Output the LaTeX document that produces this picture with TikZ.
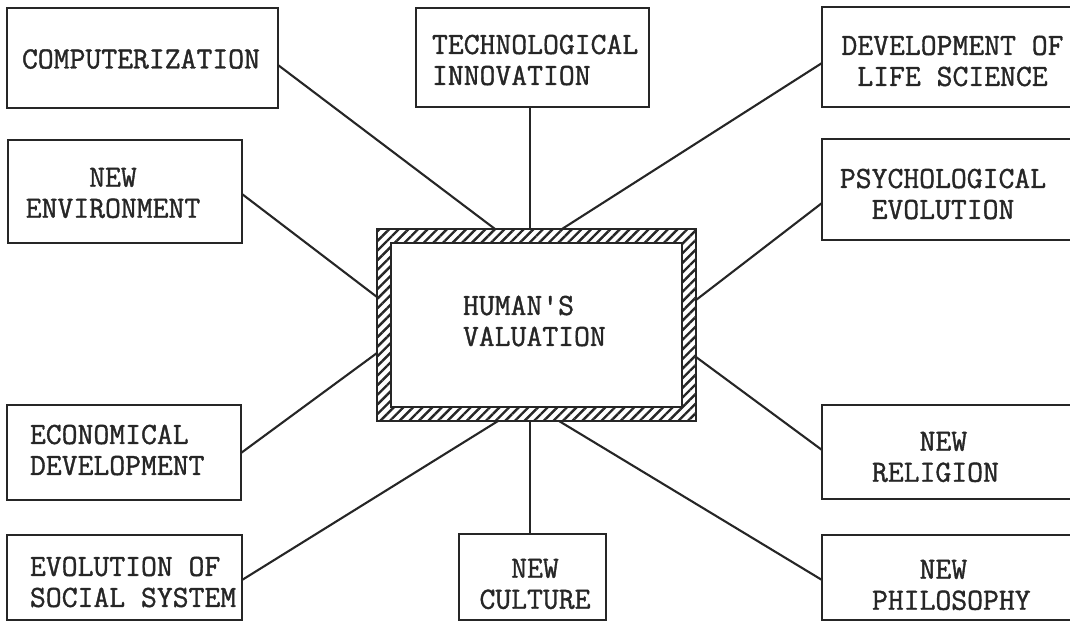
\documentclass[tikz,border=0pt]{standalone}
\usepackage{fontspec}
\newfontfamily\typewriter{Latin Modern Mono}[FakeBold=1.2]
\usetikzlibrary{patterns.meta}
\definecolor{ink}{gray}{0.15}
\begin{document}
\begin{tikzpicture}[x=0.5pt,y=-0.5pt,
  every node/.style={inner sep=0pt, outer sep=0pt},
  box/.style={draw=ink, line width=1.3pt, rectangle},
  txt/.style={font=\fontsize{15.4}{15.5}\selectfont\typewriter\bfseries, text=ink},
  link/.style={draw=ink, line width=1.05pt}]
\useasboundingbox (0,0) rectangle (1070,628);
\clip (0,0) rectangle (1070,628);

% outer boxes
\node[box, minimum width=135.5pt, minimum height=50pt]   (comp) at (142.5,58)  {};
\node[box, minimum width=116.5pt, minimum height=49.5pt] (tech) at (532.5,57.5) {};
\node[box, minimum width=134pt,   minimum height=50pt]   (dev)  at (956,57)    {};
\node[box, minimum width=117pt,   minimum height=51.5pt] (env)  at (125,191.5) {};
\node[box, minimum width=134pt,   minimum height=50.5pt] (psy)  at (956,189.5) {};
\node[box, minimum width=117pt,   minimum height=47.5pt] (econ) at (124,452.5) {};
\node[box, minimum width=134pt,   minimum height=47pt]   (rel)  at (956,452)   {};
\node[box, minimum width=117.5pt, minimum height=42.5pt] (evol) at (124.5,577.5) {};
\node[box, minimum width=73.5pt,  minimum height=43pt]   (cult) at (532.5,577) {};
\node[box, minimum width=134pt,   minimum height=42.5pt] (phil) at (956,577.5) {};

% central box with hatched frame
\node[minimum width=159.5pt, minimum height=96pt] (hv) at (536.5,325) {};
\fill[pattern={Lines[angle=45,distance=3.4pt,line width=1.2pt]}, pattern color=ink, even odd rule]
  (hv.south west) rectangle (hv.north east)
  ([shift={(7pt,7pt)}]hv.south west) rectangle ([shift={(-7pt,-7pt)}]hv.north east);
\draw[ink, line width=1.3pt] (hv.south west) rectangle (hv.north east);
\draw[ink, line width=1.3pt] ([shift={(7pt,7pt)}]hv.south west) rectangle ([shift={(-7pt,-7pt)}]hv.north east);

% labels
\node[txt, anchor=west] (tcomp) at (22,59) {COMPUTERIZATION};
\node[txt, anchor=west, align=left] (ttech) at (432,60) {TECHNOLOGICAL\\INNOVATION};
\node[txt, align=center] (tdev) at (952.5,61) {DEVELOPMENT OF\\LIFE SCIENCE};
\node[txt, align=center] (tenv) at (113,193) {NEW\\ENVIRONMENT};
\node[txt, align=center] (tpsy) at (943,194) {PSYCHOLOGICAL\\EVOLUTION};
\node[txt, anchor=west, align=left] (thv) at (463,321) {HUMAN\textquotesingle S\\VALUATION};
\node[txt, anchor=west, align=left] (tecon) at (30,450) {ECONOMICAL\\DEVELOPMENT};
\node[txt, anchor=west, align=left] (tevol) at (30,582) {EVOLUTION OF\\SOCIAL SYSTEM};
\node[txt, align=center] (tcult) at (535,584) {NEW\\CULTURE};
\node[txt, anchor=west, align=left] (trel) at (872,457) {~~~NEW\\RELIGION};
\node[txt, anchor=west, align=left] (tphil) at (872,585) {~~~NEW\\PHILOSOPHY};

% connectors
\draw[link] (comp.east |- 0,65)  -- (hv.north -| 495,0);
\draw[link] (tech.south -| 530,0) -- (hv.north -| 530,0);
\draw[link] (dev.west |- 0,63)   -- (hv.north -| 562,0);
\draw[link] (env.east |- 0,194)  -- (hv.west |- 0,297);
\draw[link] (psy.west |- 0,203)  -- (hv.east |- 0,300);
\draw[link] (econ.east |- 0,453) -- (hv.west |- 0,353);
\draw[link] (rel.west |- 0,450)  -- (hv.east |- 0,357);
\draw[link] (evol.east |- 0,580) -- (hv.south -| 498,0);
\draw[link] (cult.north -| 530,0) -- (hv.south -| 530,0);
\draw[link] (phil.west |- 0,580) -- (hv.south -| 559,0);
\end{tikzpicture}
\end{document}
